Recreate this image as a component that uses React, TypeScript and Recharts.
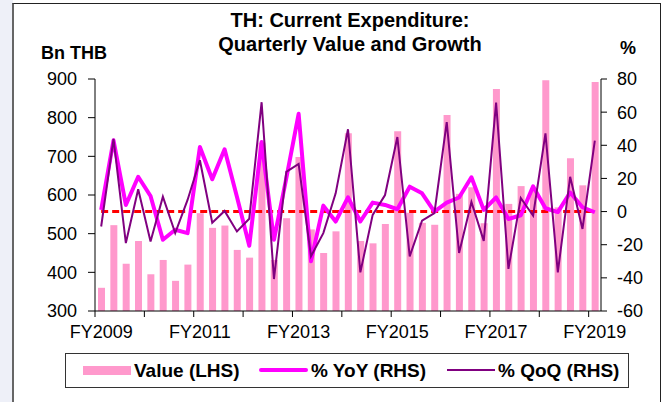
import React from "react";
import { ComposedChart, Bar, Line, XAxis, YAxis } from "recharts";

const CATEGORIES: string[] = [
  "FY2009 Q1", "FY2009 Q2", "FY2009 Q3", "FY2009 Q4",
  "FY2010 Q1", "FY2010 Q2", "FY2010 Q3", "FY2010 Q4",
  "FY2011 Q1", "FY2011 Q2", "FY2011 Q3", "FY2011 Q4",
  "FY2012 Q1", "FY2012 Q2", "FY2012 Q3", "FY2012 Q4",
  "FY2013 Q1", "FY2013 Q2", "FY2013 Q3", "FY2013 Q4",
  "FY2014 Q1", "FY2014 Q2", "FY2014 Q3", "FY2014 Q4",
  "FY2015 Q1", "FY2015 Q2", "FY2015 Q3", "FY2015 Q4",
  "FY2016 Q1", "FY2016 Q2", "FY2016 Q3", "FY2016 Q4",
  "FY2017 Q1", "FY2017 Q2", "FY2017 Q3", "FY2017 Q4",
  "FY2018 Q1", "FY2018 Q2", "FY2018 Q3", "FY2018 Q4",
  "FY2019 Q1",
];

const VALUE_BN_THB: number[] = [
  360, 522, 422, 481, 395, 432, 378, 420, 553, 515, 521, 458, 438, 735,
  432, 540, 698, 511, 450, 506, 760, 481, 475, 525, 765, 554, 528, 523,
  807, 603, 620, 527, 874, 577, 623, 618, 897, 568, 695, 625, 892,
];

const YOY_PCT: number[] = [
  1, 43, 4, 21, 9.4, -17, -11, -13, 39, 19.5, 37.6, 9, -20.6, 42,
  -17, 20, 59, -30, 3.6, -6, 8.6, -6, 5.4, 4, 1.4, 15, 11, 0,
  5.4, 8.5, 20.7, 1, 8.5, -4.5, -2.2, 15.2, 2, -0.3, 11.5, 2.6, -0.4,
];

const QOQ_PCT: number[] = [
  -9, 43.8, -19, 13.5, -18, 9, -13, 7, 31, -6.7, 0.4, -12, -4.3, 66,
  -40.7, 24, 28.7, -27, -13, 11, 49.7, -36.7, -2, 10, 45, -27, -5.5, -1,
  54, -25, 5.8, -17.7, 65.7, -34.6, 8.2, -2.5, 47.2, -36.7, 21, -10.5, 42.8,
];

const LEFT_TICKS = [300, 400, 500, 600, 700, 800, 900];
const RIGHT_TICKS = [-60, -40, -20, 0, 20, 40, 60, 80];

const data = CATEGORIES.map((q, i) => ({
  quarter: q,
  value: VALUE_BN_THB[i],
  yoy: YOY_PCT[i],
  qoq: QOQ_PCT[i],
}));

const W = 667;
const H = 402;
const LEFT_W = 95;
const RIGHT_W = 66;
const BAND = (W - LEFT_W - RIGHT_W) / CATEGORIES.length;
const FONT = 'Arial, "Liberation Sans", sans-serif';

const XTick = (props: any) => {
  const { x, y, payload } = props;
  const i: number = payload.index;
  const label = i % 8 === 0 ? String(payload.value).slice(0, 6) : "";
  return (
    <g>
      {i % 4 === 0 && (
        <line x1={x - BAND / 2} x2={x - BAND / 2} y1={y} y2={y + 6} stroke="#000" strokeWidth={1} />
      )}
      {label && (
        <text x={x} y={y + 27} textAnchor="middle" fontSize={18} fontFamily={FONT} fill="#000">
          {label}
        </text>
      )}
    </g>
  );
};

const LegendBox = () => (
  <div
    style={{
      position: "absolute",
      left: 65,
      top: 353,
      width: 564,
      height: 35,
      border: "1px solid #333",
      boxSizing: "border-box",
      background: "#fff",
    }}
  >
    <div style={{ position: "absolute", left: 17, top: 12, width: 48, height: 9, background: "#ff99cc" }} />
    <div style={{ position: "absolute", left: 68, top: 6, fontSize: 19, fontWeight: "bold", lineHeight: "21px", whiteSpace: "nowrap" }}>
      Value (LHS)
    </div>
    <div style={{ position: "absolute", left: 193, top: 14, width: 49, height: 4, background: "#ff00ff", borderRadius: 2 }} />
    <div style={{ position: "absolute", left: 245, top: 6, fontSize: 19, fontWeight: "bold", lineHeight: "21px", whiteSpace: "nowrap" }}>
      % YoY (RHS)
    </div>
    <div style={{ position: "absolute", left: 381, top: 15, width: 48, height: 2, background: "#800080" }} />
    <div style={{ position: "absolute", left: 432, top: 6, fontSize: 19, fontWeight: "bold", lineHeight: "21px", whiteSpace: "nowrap" }}>
      % QoQ (RHS)
    </div>
  </div>
);

export default function App() {
  return (
    <div
      style={{
        position: "absolute",
        left: 0,
        top: 0,
        width: W,
        height: H,
        background: "#fff",
        overflow: "hidden",
        fontFamily: FONT,
        color: "#000",
      }}
    >
      <div style={{ position: "absolute", left: 0, top: 0, width: 13, height: H, background: "#eef0f8" }} />
      <div
        style={{
          position: "absolute",
          left: 12,
          top: 3,
          width: 649,
          height: 430,
          borderLeft: "2px solid #666",
          borderTop: "1px solid #222",
          borderRight: "1px solid #222",
          boxSizing: "border-box",
        }}
      />
      <div style={{ position: "absolute", left: 0, top: 0 }}>
        <ComposedChart width={W} height={H} data={data} margin={{ top: 79, right: 0, bottom: 61, left: 0 }}>
          <XAxis
            dataKey="quarter"
            xAxisId="x"
            interval={0}
            height={30}
            tickLine={false}
            tickSize={0}
            tickMargin={0}
            axisLine={{ stroke: "#000", strokeWidth: 1 }}
            tick={<XTick />}
          />
          <YAxis
            yAxisId="left"
            orientation="left"
            width={LEFT_W}
            domain={[300, 900]}
            ticks={LEFT_TICKS}
            interval={0}
            tickSize={7}
            tickMargin={11}
            axisLine={{ stroke: "#000", strokeWidth: 1 }}
            tickLine={{ stroke: "#000", strokeWidth: 1 }}
            tick={{ fill: "#000", fontSize: 18, fontFamily: FONT }}
          />
          <YAxis
            yAxisId="right"
            orientation="right"
            width={RIGHT_W}
            domain={[-60, 80]}
            ticks={RIGHT_TICKS}
            interval={0}
            tickSize={6}
            tickMargin={10}
            axisLine={{ stroke: "#000", strokeWidth: 1 }}
            tickLine={{ stroke: "#000", strokeWidth: 1 }}
            tick={{ fill: "#000", fontSize: 18, fontFamily: FONT }}
          />
          <Bar
            xAxisId="x"
            yAxisId="left"
            dataKey="value"
            name="Value (LHS)"
            fill="#ff99cc"
            barSize={7}
            isAnimationActive={false}
          />
          <Line
            xAxisId="x"
            yAxisId="right"
            dataKey={() => 0}
            name="zero"
            legendType="none"
            stroke="#ff0000"
            strokeWidth={3}
            strokeDasharray="7 4"
            dot={false}
            activeDot={false}
            isAnimationActive={false}
          />
          <Line
            xAxisId="x"
            yAxisId="right"
            type="linear"
            dataKey="yoy"
            name="% YoY (RHS)"
            stroke="#ff00ff"
            strokeWidth={4}
            strokeLinejoin="round"
            dot={false}
            activeDot={false}
            isAnimationActive={false}
          />
          <Line
            xAxisId="x"
            yAxisId="right"
            type="linear"
            dataKey="qoq"
            name="% QoQ (RHS)"
            stroke="#800080"
            strokeWidth={2}
            dot={false}
            activeDot={false}
            isAnimationActive={false}
          />
        </ComposedChart>
      </div>
      <div style={{ position: "absolute", left: 150, width: 400, top: 10, textAlign: "center", fontSize: 20, fontWeight: "bold", lineHeight: "20px" }}>
        TH: Current Expenditure:
      </div>
      <div style={{ position: "absolute", left: 150, width: 400, top: 34, textAlign: "center", fontSize: 20, fontWeight: "bold", lineHeight: "20px" }}>
        Quarterly Value and Growth
      </div>
      <div style={{ position: "absolute", left: 41, top: 44, fontSize: 18, fontWeight: "bold", lineHeight: "18px", whiteSpace: "nowrap" }}>
        Bn THB
      </div>
      <div style={{ position: "absolute", left: 620, top: 39, fontSize: 18, fontWeight: "bold", lineHeight: "18px" }}>
        %
      </div>
      <LegendBox />
    </div>
  );
}
